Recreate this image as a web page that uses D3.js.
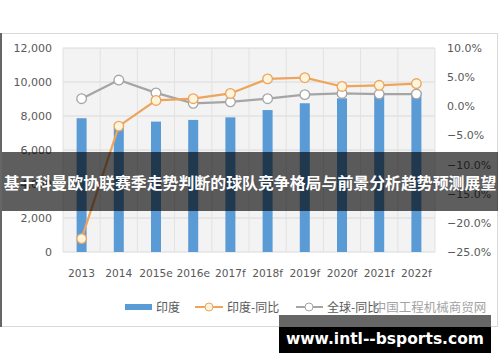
<!DOCTYPE html>
<html><head><meta charset="utf-8">
<script src="https://cdn.jsdelivr.net/npm/d3@7/dist/d3.min.js"></script>
<style>body{margin:0;background:#fff}svg{display:block}</style>
</head><body>
<svg id="c" width="500" height="362"></svg>
<script>
const categories = ["2013","2014","2015e","2016e","2017f","2018f","2019f","2020f","2021f","2022f"];
const indiaValues = [7870, 7300, 7670, 7770, 7920, 8350, 8750, 9040, 9240, 9430];
const indiaYoY = [-22.7, -3.4, 1.0, 1.3, 2.2, 4.7, 4.9, 3.4, 3.6, 3.9];
const globalYoY = [1.3, 4.5, 2.3, 0.5, 0.75, 1.3, 2.0, 2.2, 2.1, 2.1];
const leftTicks = [0, 2000, 4000, 6000, 8000, 10000, 12000];
const rightTicks = [-25, -20, -15, -10, -5, 0, 5, 10];
const seriesNames = ["印度", "印度-同比", "全球-同比"];
const titleText = "基于科曼欧协联赛季走势判断的球队竞争格局与前景分析趋势预测展望";
const sourceText = "中国工程机械商贸网";
const siteText = "www.intl--bsports.com";

const svg = d3.select("#c");
const m = {l: 63, r: 435, t: 48, b: 252};
const font = "'DejaVu Sans', Verdana, sans-serif";
const cjk = "'Noto Sans CJK SC', sans-serif";

// outer frame
svg.append("rect").attr("x", 1.5).attr("y", 33.5).attr("width", 496).attr("height", 293)
  .attr("fill", "#fff").attr("stroke", "#d9d9d9");
svg.append("line").attr("x1", 1).attr("x2", 1).attr("y1", 33).attr("y2", 327)
  .attr("stroke", "#666").attr("stroke-width", 2);

const x = d3.scaleBand().domain(categories).range([m.l, m.r]).paddingInner(0).paddingOuter(0);
const yL = d3.scaleLinear().domain([0, 12000]).range([m.b, m.t]);
const yR = d3.scaleLinear().domain([-25, 10]).range([m.b, m.t]);

// plot background
svg.append("rect").attr("x", m.l).attr("y", m.t).attr("width", m.r - m.l).attr("height", m.b - m.t)
  .attr("fill", "#f3f3f3");

// gridlines
svg.append("g").selectAll("line").data(leftTicks).join("line")
  .attr("x1", m.l).attr("x2", m.r).attr("y1", d => yL(d)).attr("y2", d => yL(d))
  .attr("stroke", "#dadada").attr("stroke-width", 1);
svg.append("g").selectAll("line").data(categories.concat(["__end"])).join("line")
  .attr("x1", d => d === "__end" ? m.r : x(d)).attr("x2", d => d === "__end" ? m.r : x(d))
  .attr("y1", m.t).attr("y2", m.b)
  .attr("stroke", "#e2e2e2").attr("stroke-width", 1);

// axes
const axL = d3.axisLeft(yL).tickValues(leftTicks).tickFormat(d3.format(",")).tickSize(0).tickPadding(11);
const gL = svg.append("g").attr("transform", `translate(${m.l},0)`).call(axL);
const axR = d3.axisRight(yR).tickValues(rightTicks).tickFormat(d => d3.format(".1f")(d) + "%").tickSize(0).tickPadding(12);
const gR = svg.append("g").attr("transform", `translate(${m.r},0)`).call(axR);
const axB = d3.axisBottom(x).tickSize(0).tickPadding(17);
const gB = svg.append("g").attr("transform", `translate(0,${m.b})`).call(axB);
[gL, gR, gB].forEach(g => {
  g.select(".domain").remove();
  g.selectAll("text").attr("fill", "#595959").attr("font-family", font).attr("font-size", 11);
});
gB.selectAll("text").attr("font-size", 10.6);

// bars
const bw = 10;
svg.append("g").selectAll("rect").data(indiaValues).join("rect")
  .attr("x", (d, i) => x(categories[i]) + x.bandwidth() / 2 - bw / 2)
  .attr("width", bw)
  .attr("y", d => yL(d)).attr("height", d => yL(0) - yL(d))
  .attr("fill", "#5b9bd5");

// lines
const cx = (d, i) => x(categories[i]) + x.bandwidth() / 2;
const line = d3.line().x(cx).y(d => yR(d));
function drawSeries(vals, color, markerFill) {
  svg.append("path").datum(vals).attr("d", line).attr("fill", "none")
    .attr("stroke", color).attr("stroke-width", 2.2);
  svg.append("g").selectAll("circle").data(vals).join("circle")
    .attr("cx", cx).attr("cy", d => yR(d)).attr("r", 4.8)
    .attr("fill", markerFill).attr("stroke", color).attr("stroke-width", 1.3);
}
drawSeries(globalYoY, "#a5a5a5", "#ffffff");
drawSeries(indiaYoY, "#eda45c", "#fdf4dc");

// legend
const ly = 307;
const lg = svg.append("g").attr("font-family", cjk).attr("font-size", 12).attr("fill", "#595959");
lg.append("rect").attr("x", 125).attr("y", ly - 3).attr("width", 27).attr("height", 6).attr("fill", "#5b9bd5");
lg.append("text").attr("x", 156).attr("y", ly + 4.5).text(seriesNames[0]);
lg.append("line").attr("x1", 195).attr("x2", 223).attr("y1", ly).attr("y2", ly).attr("stroke", "#eda45c").attr("stroke-width", 2);
lg.append("circle").attr("cx", 209).attr("cy", ly).attr("r", 4).attr("fill", "#fdf4dc").attr("stroke", "#eda45c");
lg.append("text").attr("x", 227).attr("y", ly + 4.5).text(seriesNames[1]);
lg.append("line").attr("x1", 296).attr("x2", 323).attr("y1", ly).attr("y2", ly).attr("stroke", "#a5a5a5").attr("stroke-width", 2);
lg.append("circle").attr("cx", 309).attr("cy", ly).attr("r", 4).attr("fill", "#fff").attr("stroke", "#a5a5a5");
lg.append("text").attr("x", 327).attr("y", ly + 4.5).text(seriesNames[2]);
svg.append("text").attr("x", 430).attr("y", ly + 5).attr("text-anchor", "middle")
  .attr("font-family", cjk).attr("font-size", 12.5).attr("fill", "#9a9a9a").attr("opacity", 0.9)
  .text(sourceText);

// title overlay band
svg.append("rect").attr("x", 2).attr("y", 152).attr("width", 496).attr("height", 59)
  .attr("fill", "rgba(0,0,0,0.63)");
svg.append("text").attr("x", 250).attr("y", 189).attr("text-anchor", "middle")
  .attr("font-family", cjk).attr("font-weight", "bold").attr("font-size", 15.9).attr("fill", "#fff")
  .text(titleText);

// site watermark box
svg.append("rect").attr("x", 279).attr("y", 315).attr("width", 212).attr("height", 12).attr("fill", "#666");
svg.append("rect").attr("x", 279).attr("y", 327).attr("width", 212).attr("height", 26).attr("fill", "#000");
svg.append("text").attr("x", 385).attr("y", 344).attr("text-anchor", "middle")
  .attr("font-family", "'DejaVu Sans', sans-serif").attr("font-weight", "bold").attr("font-size", 15.5).attr("fill", "#fff")
  .text(siteText);
</script>
</body></html>
